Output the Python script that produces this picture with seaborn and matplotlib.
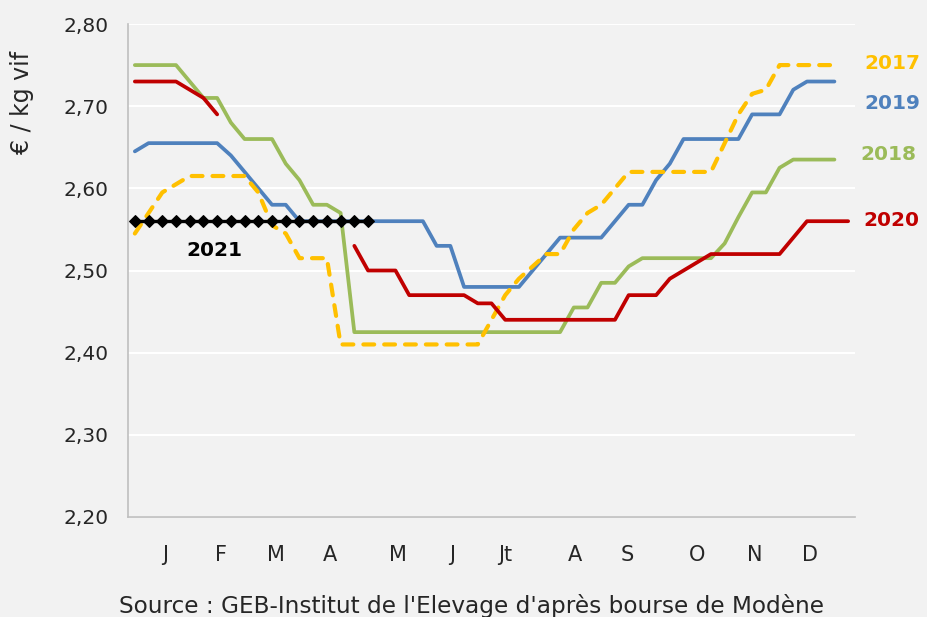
import numpy as np
import pandas as pd
import matplotlib
matplotlib.use("Agg")
import matplotlib.pyplot as plt
import seaborn as sns

# monthly tick labels and where they sit on the weekly axis
months = ["J", "F", "M", "A", "M", "J", "Jt", "A", "S", "O", "N", "D"]
month_pos = [2.2, 6.3, 10.3, 14.2, 19.2, 23.1, 27, 32.1, 35.9, 41, 45.2, 49.2]

# weekly prices (EUR / kg vif)
p2017 = [2.545, 2.57, 2.595, 2.605, 2.615, 2.615, 2.615, 2.615, 2.615, 2.595,
         2.555, 2.545, 2.515, 2.515, 2.515, 2.41, 2.41, 2.41, 2.41, 2.41,
         2.41, 2.41, 2.41, 2.41, 2.41, 2.41, 2.44, 2.47, 2.49, 2.505,
         2.52, 2.52, 2.55, 2.57, 2.58, 2.60, 2.62, 2.62, 2.62, 2.62,
         2.62, 2.62, 2.62, 2.655, 2.69, 2.715, 2.72, 2.75, 2.75, 2.75,
         2.75, 2.75]
p2018 = [2.75, 2.75, 2.75, 2.75, 2.73, 2.71, 2.71, 2.68, 2.66, 2.66,
         2.66, 2.63, 2.61, 2.58, 2.58, 2.57, 2.425, 2.425, 2.425, 2.425,
         2.425, 2.425, 2.425, 2.425, 2.425, 2.425, 2.425, 2.425, 2.425, 2.425,
         2.425, 2.425, 2.455, 2.455, 2.485, 2.485, 2.505, 2.515, 2.515, 2.515,
         2.515, 2.515, 2.515, 2.533, 2.565, 2.595, 2.595, 2.625, 2.635, 2.635,
         2.635, 2.635]
p2019 = [2.645, 2.655, 2.655, 2.655, 2.655, 2.655, 2.655, 2.64, 2.62, 2.60,
         2.58, 2.58, 2.56, 2.56, 2.56, 2.56, 2.56, 2.56, 2.56, 2.56,
         2.56, 2.56, 2.53, 2.53, 2.48, 2.48, 2.48, 2.48, 2.48, 2.50,
         2.52, 2.54, 2.54, 2.54, 2.54, 2.56, 2.58, 2.58, 2.61, 2.63,
         2.66, 2.66, 2.66, 2.66, 2.66, 2.69, 2.69, 2.69, 2.72, 2.73,
         2.73, 2.73]
p2020 = [2.73, 2.73, 2.73, 2.73, 2.72, 2.71, 2.69, np.nan, np.nan, np.nan,
         np.nan, np.nan, np.nan, np.nan, np.nan, np.nan, 2.53, 2.50, 2.50, 2.50,
         2.47, 2.47, 2.47, 2.47, 2.47, 2.46, 2.46, 2.44, 2.44, 2.44,
         2.44, 2.44, 2.44, 2.44, 2.44, 2.44, 2.47, 2.47, 2.47, 2.49,
         2.50, 2.51, 2.52, 2.52, 2.52, 2.52, 2.52, 2.52, 2.54, 2.56,
         2.56, 2.56, 2.56]
p2021 = [2.56, 2.56, 2.56, 2.56, 2.56, 2.56, 2.56, 2.56, 2.56, 2.56,
         2.56, 2.56, 2.56, 2.56, 2.56, 2.56, 2.56, 2.56]

yticks = [2.20, 2.30, 2.40, 2.50, 2.60, 2.70, 2.80]

bg = "#F2F2F2"
axis_grey = "#BFBFBF"
txt = "#262626"
c2017, c2018, c2019, c2020 = "#FFC000", "#9BBB59", "#4F81BD", "#C00000"

sns.set_style("white")
plt.rcParams["font.family"] = ["DejaVu Sans"]


def to_df(values):
    d = pd.DataFrame({"week": np.arange(len(values)), "price": values})
    d["seg"] = d["price"].isna().cumsum()
    return d.dropna()


fig = plt.figure(figsize=(9.28, 6.17), dpi=100, facecolor=bg)
ax = fig.add_axes([128 / 928, 1 - 517 / 617, (855 - 128) / 928, (517 - 24) / 617])
ax.set_facecolor(bg)

sns.lineplot(data=to_df(p2018), x="week", y="price", ax=ax, color=c2018, lw=2.7)
sns.lineplot(data=to_df(p2019), x="week", y="price", ax=ax, color=c2019, lw=2.7)
sns.lineplot(data=to_df(p2017), x="week", y="price", ax=ax, color=c2017, lw=3.0,
             linestyle=(0, (2.6, 2.4)), dash_capstyle="round")
sns.lineplot(data=to_df(p2020), x="week", y="price", units="seg", estimator=None,
             ax=ax, color=c2020, lw=2.7)
sns.lineplot(data=to_df(p2021), x="week", y="price", ax=ax, color="black", lw=2.4,
             marker="D", markersize=6.5, markeredgecolor="black")

ax.set_xlim(-0.5, 52.5)
ax.set_ylim(2.2, 2.8)
ax.set_yticks(yticks)
ax.set_yticklabels([f"{v:.2f}".replace(".", ",") for v in yticks], fontsize=14.5,
                   color=txt)
ax.set_xticks(month_pos)
ax.set_xticklabels(months, fontsize=15, color=txt)
ax.tick_params(axis="x", length=0, pad=20)
ax.tick_params(axis="y", length=6, color=axis_grey, width=1, pad=8)
ax.set_xticks([-0.5, 52.5], minor=True)
ax.tick_params(axis="x", which="minor", length=6, color=axis_grey, direction="inout")
ax.set_xlabel("")
ax.set_ylabel("")

ax.grid(axis="y", color="white", lw=1.5)
ax.set_axisbelow(True)
for side in ["top", "right"]:
    ax.spines[side].set_visible(False)
for side in ["left", "bottom"]:
    ax.spines[side].set_color(axis_grey)
    ax.spines[side].set_linewidth(1.2)

# series labels
lab = dict(fontsize=14.5, fontweight="bold", va="center", ha="left", clip_on=False)
ax.text(53.2, 2.752, "2017", color=c2017, **lab)
ax.text(53.2, 2.703, "2019", color=c2019, **lab)
ax.text(52.9, 2.641, "2018", color=c2018, **lab)
ax.text(53.1, 2.561, "2020", color=c2020, **lab)
ax.text(5.8, 2.524, "2021", color="black", fontsize=14.5, fontweight="bold",
        ha="center", va="center")

fig.text(22 / 928, 1 - 102 / 617, "€ / kg vif", rotation=90, fontsize=17,
         ha="center", va="center", color=txt)
fig.text(472 / 928, 1 - 606 / 617, "Source : GEB-Institut de l'Elevage d'après bourse de Modène",
         fontsize=16.7, ha="center", va="center", color=txt)

fig.savefig("out.png", dpi=100, facecolor=bg)
